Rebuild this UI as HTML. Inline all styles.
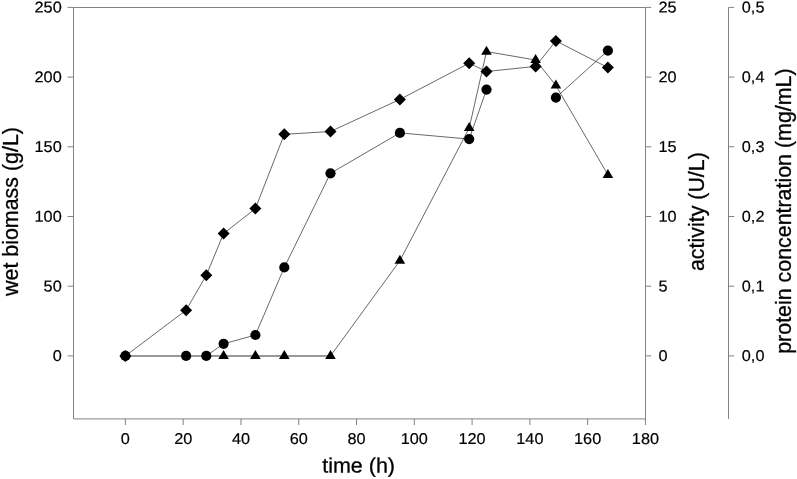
<!DOCTYPE html>
<html><head><meta charset="utf-8"><title>chart</title>
<style>html,body{margin:0;padding:0;background:#fff}svg{display:block}text{font-family:"Liberation Sans",Arial,sans-serif;fill:#000}</style></head><body>
<svg width="797" height="479" viewBox="0 0 797 479">
<rect width="797" height="479" fill="#fff"/>
<g stroke="#757575" stroke-width="0.9" fill="none">
<path d="M73.5 7.5H645.5V418.9H73.5Z"/>
<path d="M728.5 7.5V418.9"/>
<path d="M67.5 355.90H73.5M645.5 355.90h5.7M728.5 355.90h5.7"/>
<path d="M67.5 286.20H73.5M645.5 286.20h5.7M728.5 286.20h5.7"/>
<path d="M67.5 216.50H73.5M645.5 216.50h5.7M728.5 216.50h5.7"/>
<path d="M67.5 146.80H73.5M645.5 146.80h5.7M728.5 146.80h5.7"/>
<path d="M67.5 77.10H73.5M645.5 77.10h5.7M728.5 77.10h5.7"/>
<path d="M67.5 7.40H73.5M645.5 7.40h5.7M728.5 7.40h5.7"/>
<path d="M125.40 418.9v6.1"/>
<path d="M183.18 418.9v6.1"/>
<path d="M240.96 418.9v6.1"/>
<path d="M298.74 418.9v6.1"/>
<path d="M356.52 418.9v6.1"/>
<path d="M414.30 418.9v6.1"/>
<path d="M472.08 418.9v6.1"/>
<path d="M529.86 418.9v6.1"/>
<path d="M587.64 418.9v6.1"/>
<path d="M645.42 418.9v6.1"/>
</g>
<polyline fill="none" stroke="#222" stroke-width="0.68" points="125.4,355.9 186.1,310.2 206.3,275.3 223.6,233.5 255.4,208.6 284.3,134.3 330.5,131.5 399.9,99.4 469.2,63.2 486.5,71.5 535.6,66.4 555.9,40.9 607.9,67.6"/>
<polyline fill="none" stroke="#222" stroke-width="0.68" points="206.3,355.9 223.6,343.8 255.4,335.0 284.3,267.4 330.5,173.3 399.9,132.9 469.2,139.1 486.5,89.6"/>
<polyline fill="none" stroke="#222" stroke-width="0.68" points="555.9,97.6 607.9,50.6"/>
<polyline fill="none" stroke="#222" stroke-width="0.68" points="330.5,355.9 399.9,260.7 469.2,128.0 486.5,51.6 535.6,60.0 555.9,85.5 607.9,174.8"/>
<path d="M125.4 356H330.5" stroke="#333" stroke-width="1" fill="none"/>
<g fill="#000">
<circle cx="125.4" cy="355.9" r="5.1"/>
<circle cx="186.1" cy="355.9" r="5.1"/>
<circle cx="206.3" cy="355.9" r="5.1"/>
<circle cx="223.6" cy="343.8" r="5.1"/>
<circle cx="255.4" cy="335.0" r="5.1"/>
<circle cx="284.3" cy="267.4" r="5.1"/>
<circle cx="330.5" cy="173.3" r="5.1"/>
<circle cx="399.9" cy="132.9" r="5.1"/>
<circle cx="469.2" cy="139.1" r="5.1"/>
<circle cx="486.5" cy="89.6" r="5.1"/>
<circle cx="555.9" cy="97.6" r="5.1"/>
<circle cx="607.9" cy="50.6" r="5.1"/>
<path d="M223.6 350.0l5.3 9h-10.6z"/>
<path d="M255.4 350.0l5.3 9h-10.6z"/>
<path d="M284.3 350.0l5.3 9h-10.6z"/>
<path d="M330.5 350.0l5.3 9h-10.6z"/>
<path d="M399.9 254.8l5.3 9h-10.6z"/>
<path d="M469.2 122.1l5.3 9h-10.6z"/>
<path d="M486.5 45.7l5.3 9h-10.6z"/>
<path d="M535.6 54.1l5.3 9h-10.6z"/>
<path d="M555.9 79.6l5.3 9h-10.6z"/>
<path d="M607.9 168.9l5.3 9h-10.6z"/>
<path d="M125.4 349.9l6 6l-6 6l-6 -6z"/>
<path d="M186.1 304.2l6 6l-6 6l-6 -6z"/>
<path d="M206.3 269.3l6 6l-6 6l-6 -6z"/>
<path d="M223.6 227.5l6 6l-6 6l-6 -6z"/>
<path d="M255.4 202.6l6 6l-6 6l-6 -6z"/>
<path d="M284.3 128.3l6 6l-6 6l-6 -6z"/>
<path d="M330.5 125.5l6 6l-6 6l-6 -6z"/>
<path d="M399.9 93.4l6 6l-6 6l-6 -6z"/>
<path d="M469.2 57.2l6 6l-6 6l-6 -6z"/>
<path d="M486.5 65.5l6 6l-6 6l-6 -6z"/>
<path d="M535.6 60.4l6 6l-6 6l-6 -6z"/>
<path d="M555.9 34.9l6 6l-6 6l-6 -6z"/>
<path d="M607.9 61.6l6 6l-6 6l-6 -6z"/>
</g>
<text transform="translate(61.70 361.10) rotate(0.03) scale(1.0 0.965)" text-anchor="end" font-size="16.3" stroke="#000" stroke-width="0.2">0</text>
<text transform="translate(658.40 361.10) rotate(0.03) scale(1.0 0.965)" text-anchor="start" font-size="16.3" stroke="#000" stroke-width="0.2">0</text>
<text transform="translate(741.80 361.10) rotate(0.03) scale(1.0 0.965)" text-anchor="start" font-size="16.3" stroke="#000" stroke-width="0.2">0,0</text>
<text transform="translate(61.70 291.40) rotate(0.03) scale(1.0 0.965)" text-anchor="end" font-size="16.3" stroke="#000" stroke-width="0.2">50</text>
<text transform="translate(658.40 291.40) rotate(0.03) scale(1.0 0.965)" text-anchor="start" font-size="16.3" stroke="#000" stroke-width="0.2">5</text>
<text transform="translate(741.80 291.40) rotate(0.03) scale(1.0 0.965)" text-anchor="start" font-size="16.3" stroke="#000" stroke-width="0.2">0,1</text>
<text transform="translate(61.70 221.70) rotate(0.03) scale(1.0 0.965)" text-anchor="end" font-size="16.3" stroke="#000" stroke-width="0.2">100</text>
<text transform="translate(658.40 221.70) rotate(0.03) scale(1.0 0.965)" text-anchor="start" font-size="16.3" stroke="#000" stroke-width="0.2">10</text>
<text transform="translate(741.80 221.70) rotate(0.03) scale(1.0 0.965)" text-anchor="start" font-size="16.3" stroke="#000" stroke-width="0.2">0,2</text>
<text transform="translate(61.70 152.00) rotate(0.03) scale(1.0 0.965)" text-anchor="end" font-size="16.3" stroke="#000" stroke-width="0.2">150</text>
<text transform="translate(658.40 152.00) rotate(0.03) scale(1.0 0.965)" text-anchor="start" font-size="16.3" stroke="#000" stroke-width="0.2">15</text>
<text transform="translate(741.80 152.00) rotate(0.03) scale(1.0 0.965)" text-anchor="start" font-size="16.3" stroke="#000" stroke-width="0.2">0,3</text>
<text transform="translate(61.70 82.30) rotate(0.03) scale(1.0 0.965)" text-anchor="end" font-size="16.3" stroke="#000" stroke-width="0.2">200</text>
<text transform="translate(658.40 82.30) rotate(0.03) scale(1.0 0.965)" text-anchor="start" font-size="16.3" stroke="#000" stroke-width="0.2">20</text>
<text transform="translate(741.80 82.30) rotate(0.03) scale(1.0 0.965)" text-anchor="start" font-size="16.3" stroke="#000" stroke-width="0.2">0,4</text>
<text transform="translate(61.70 12.60) rotate(0.03) scale(1.0 0.965)" text-anchor="end" font-size="16.3" stroke="#000" stroke-width="0.2">250</text>
<text transform="translate(658.40 12.60) rotate(0.03) scale(1.0 0.965)" text-anchor="start" font-size="16.3" stroke="#000" stroke-width="0.2">25</text>
<text transform="translate(741.80 12.60) rotate(0.03) scale(1.0 0.965)" text-anchor="start" font-size="16.3" stroke="#000" stroke-width="0.2">0,5</text>
<text transform="translate(125.40 444.00) rotate(0.03) scale(1.0 0.965)" text-anchor="middle" font-size="16.3" stroke="#000" stroke-width="0.2">0</text>
<text transform="translate(183.18 444.00) rotate(0.03) scale(1.0 0.965)" text-anchor="middle" font-size="16.3" stroke="#000" stroke-width="0.2">20</text>
<text transform="translate(240.96 444.00) rotate(0.03) scale(1.0 0.965)" text-anchor="middle" font-size="16.3" stroke="#000" stroke-width="0.2">40</text>
<text transform="translate(298.74 444.00) rotate(0.03) scale(1.0 0.965)" text-anchor="middle" font-size="16.3" stroke="#000" stroke-width="0.2">60</text>
<text transform="translate(356.52 444.00) rotate(0.03) scale(1.0 0.965)" text-anchor="middle" font-size="16.3" stroke="#000" stroke-width="0.2">80</text>
<text transform="translate(414.30 444.00) rotate(0.03) scale(1.0 0.965)" text-anchor="middle" font-size="16.3" stroke="#000" stroke-width="0.2">100</text>
<text transform="translate(472.08 444.00) rotate(0.03) scale(1.0 0.965)" text-anchor="middle" font-size="16.3" stroke="#000" stroke-width="0.2">120</text>
<text transform="translate(529.86 444.00) rotate(0.03) scale(1.0 0.965)" text-anchor="middle" font-size="16.3" stroke="#000" stroke-width="0.2">140</text>
<text transform="translate(587.64 444.00) rotate(0.03) scale(1.0 0.965)" text-anchor="middle" font-size="16.3" stroke="#000" stroke-width="0.2">160</text>
<text transform="translate(645.42 444.00) rotate(0.03) scale(1.0 0.965)" text-anchor="middle" font-size="16.3" stroke="#000" stroke-width="0.2">180</text>
<text transform="translate(358.60 472.60) rotate(0.03) scale(1.005 0.975)" text-anchor="middle" font-size="21.4" stroke="#000" stroke-width="0.3">time (h)</text>
<text transform="translate(17.8 211.5) rotate(-90.02) scale(1 1.0)" text-anchor="middle" font-size="21.4" stroke="#000" stroke-width="0.3">wet biomass (g/L)</text>
<text transform="translate(704.3 211.6) rotate(-90.02) scale(1 1.0)" text-anchor="middle" font-size="21.4" stroke="#000" stroke-width="0.3">activity (U/L)</text>
<text transform="translate(790.9 211.1) rotate(-90.02) scale(1 1.0)" text-anchor="middle" font-size="21.4" stroke="#000" stroke-width="0.3">protein concentration (mg/mL)</text>
</svg></body></html>
